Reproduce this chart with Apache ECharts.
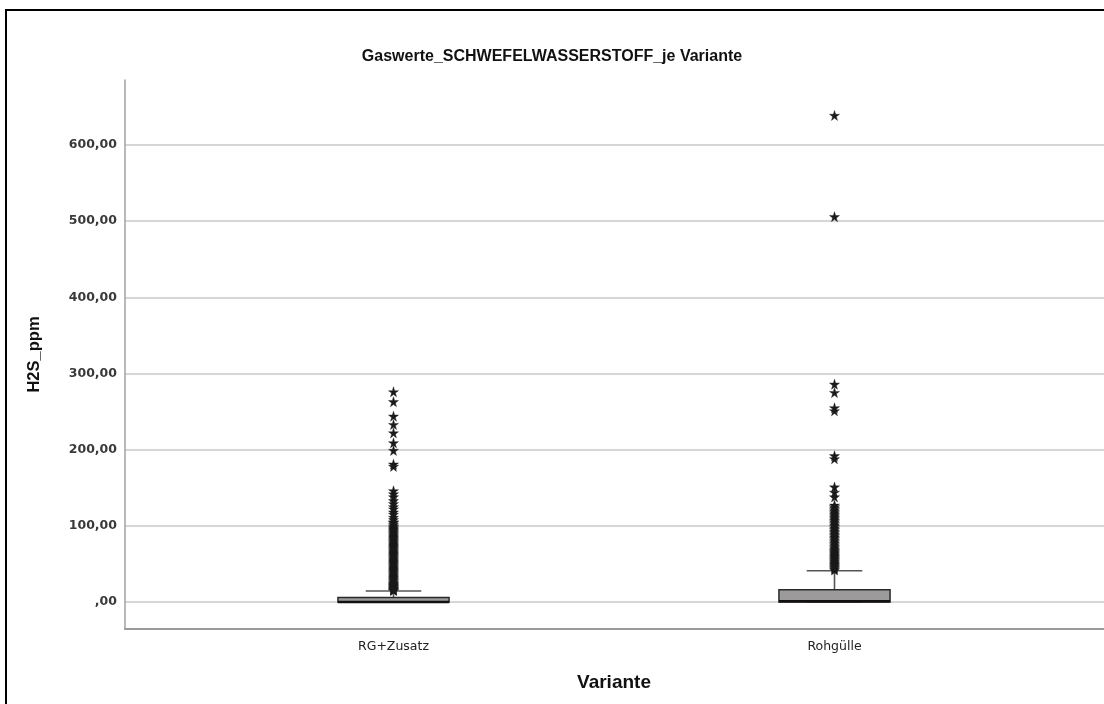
<!DOCTYPE html>
<html><head><meta charset="utf-8">
<script src="https://cdn.jsdelivr.net/npm/echarts@6/dist/echarts.min.js"></script>
<style>
html,body{margin:0;padding:0;background:#fff;}
#c{position:absolute;left:0;top:0;width:1104px;height:704px;}
#frame{position:absolute;left:5px;top:9px;width:1200px;height:800px;border-left:2px solid #000;border-top:2px solid #000;pointer-events:none;}
</style>
</head><body><div id="c"></div><div id="frame"></div>
<script>
const chartTitle = 'Gaswerte_SCHWEFELWASSERSTOFF_je Variante';
const yAxisName = 'H2S_ppm';
const xAxisName = 'Variante';
const categories = ['RG+Zusatz', 'Rohgülle'];
const boxMin = [0, 0];
const boxQ1 = [0, 0];
const boxMedian = [0, 1];
const boxQ3 = [6, 16];
const boxMax = [14.5, 41];
const outliersRG = [276, 263, 244, 233, 222, 209, 199, 181, 178, 146, 142, 138, 133, 129, 125, 122, 118, 115, 111, 108,
  105, 104, 102, 100, 98.5, 97, 95.5, 94, 92.5, 91, 89.5, 88, 86.5, 85, 83.5, 82, 80.5, 79, 77.5, 76, 74.5, 73, 71.5, 70,
  68.5, 67, 65.5, 64, 62.5, 61, 59.5, 58, 56.5, 55, 53.5, 52, 50.5, 49, 47.5, 46, 44.5, 43, 41.5, 40, 38.5, 37, 35.5, 34,
  32.5, 31, 29.5, 28, 26.5, 25, 24, 23, 22, 21, 20, 19, 18, 17, 16, 15.5, 15];
const outliersRoh = [639, 506, 286, 275, 255, 251, 192, 188, 151, 144, 138,
  127, 125, 123, 121, 119, 117, 115, 113, 111, 109, 107, 105, 103, 101, 99, 97, 95, 93, 91, 89, 87, 85, 83, 81, 79, 77, 75,
  73, 71, 69, 67.5, 66, 64.5, 63, 61.5, 60, 58.5, 57, 55.5, 54, 52.5, 51, 49.5, 48, 46.5, 45, 43.5, 42];
const yTicks = [0, 100, 200, 300, 400, 500, 600];
const yMin = -35.5, yMax = 685.5;

const starPath = 'path://M50,0 L61,35 L98,35 L68,57 L79,91 L50,70 L21,91 L32,57 L2,35 L39,35 Z';

const boxData = categories.map((c, i) => [i, boxMin[i], boxQ1[i], boxMedian[i], boxQ3[i], boxMax[i]]);
const outlierData = [];
outliersRG.forEach(v => outlierData.push([0, v]));
outliersRoh.forEach(v => outlierData.push([1, v]));

function fmt(v) {
  if (!yTicks.includes(v)) return '';
  if (v === 0) return ',00';
  return v.toFixed(2).replace('.', ',');
}

const chart = echarts.init(document.getElementById('c'), null, {renderer: 'canvas'});
chart.setOption({
  animation: false,
  backgroundColor: '#fff',
  title: {
    text: chartTitle, left: 'center', top: 44,
    textStyle: {fontFamily: 'Liberation Sans', fontWeight: 'bold', fontSize: 16, color: '#111'}
  },
  grid: [
    {left: 125, right: 0, top: 80, bottom: 75},
    {left: 173, right: 49, top: 80, bottom: 75}
  ],
  xAxis: [
    {gridIndex: 0, type: 'value', min: 0, max: 1, axisLine: {show: true, onZero: false, lineStyle: {color: '#9a9a9a', width: 2}},
     axisTick: {show: false}, axisLabel: {show: false}, splitLine: {show: false}},
    {gridIndex: 1, type: 'category', data: categories, axisLine: {show: false}, axisTick: {show: false},
     axisLabel: {margin: 11, fontFamily: 'DejaVu Sans', fontSize: 12.5, color: '#222'},
     name: xAxisName, nameLocation: 'middle', nameGap: 44,
     nameTextStyle: {fontFamily: 'Liberation Sans', fontWeight: 'bold', fontSize: 19, color: '#111'}}
  ],
  yAxis: [
    {gridIndex: 0, type: 'value', min: yMin, max: yMax,
     axisLine: {show: true, lineStyle: {color: '#a0a0a0', width: 1.5}},
     axisTick: {show: false},
     axisLabel: {formatter: fmt, margin: 8, fontFamily: 'DejaVu Sans', fontWeight: 'bold', fontSize: 12.5, color: '#3a3a3a'},
     splitLine: {show: true, showMinLine: false, showMaxLine: false, lineStyle: {color: '#d6d6d6', width: 2}},
     name: yAxisName, nameLocation: 'middle', nameGap: 82, nameRotate: 90,
     nameTextStyle: {fontFamily: 'Liberation Sans', fontWeight: 'bold', fontSize: 16.5, color: '#111'}},
    {gridIndex: 1, type: 'value', min: yMin, max: yMax, show: false, splitLine: {show: false}}
  ],
  series: [
    {
      type: 'custom', xAxisIndex: 1, yAxisIndex: 1, data: boxData, z: 3,
      renderItem(params, api) {
        const x = api.value(0);
        const pMin = api.coord([x, api.value(1)]);
        const pQ1 = api.coord([x, api.value(2)]);
        const pMed = api.coord([x, api.value(3)]);
        const pQ3 = api.coord([x, api.value(4)]);
        const pMax = api.coord([x, api.value(5)]);
        const band = api.size([1, 0])[0];
        const bw = band * 0.252;
        const cw = bw / 2;
        const cx = pQ1[0];
        const wl = {stroke: '#555', lineWidth: 1.6};
        return {type: 'group', children: [
          {type: 'line', shape: {x1: cx, y1: pQ3[1], x2: cx, y2: pMax[1]}, style: wl},
          {type: 'line', shape: {x1: cx - cw / 2, y1: pMax[1], x2: cx + cw / 2, y2: pMax[1]}, style: wl},
          {type: 'line', shape: {x1: cx, y1: pQ1[1], x2: cx, y2: pMin[1]}, style: wl},
          {type: 'line', shape: {x1: cx - cw / 2, y1: pMin[1], x2: cx + cw / 2, y2: pMin[1]}, style: wl},
          {type: 'rect', shape: {x: cx - bw / 2, y: pQ3[1], width: bw, height: Math.max(pQ1[1] - pQ3[1], 1)},
           style: {fill: '#9c9a9a', stroke: '#2a2a2a', lineWidth: 1.5}},
          {type: 'line', shape: {x1: cx - bw / 2, y1: pMed[1], x2: cx + bw / 2, y2: pMed[1]}, style: {stroke: '#111', lineWidth: 2.5}}
        ]};
      }
    },
    {
      type: 'scatter', xAxisIndex: 1, yAxisIndex: 1, data: outlierData, z: 4,
      symbol: starPath, symbolSize: 10,
      itemStyle: {color: '#1a1a1a', borderColor: '#1a1a1a', borderWidth: 0.4, opacity: 1}
    }
  ]
});
</script>
</body></html>
